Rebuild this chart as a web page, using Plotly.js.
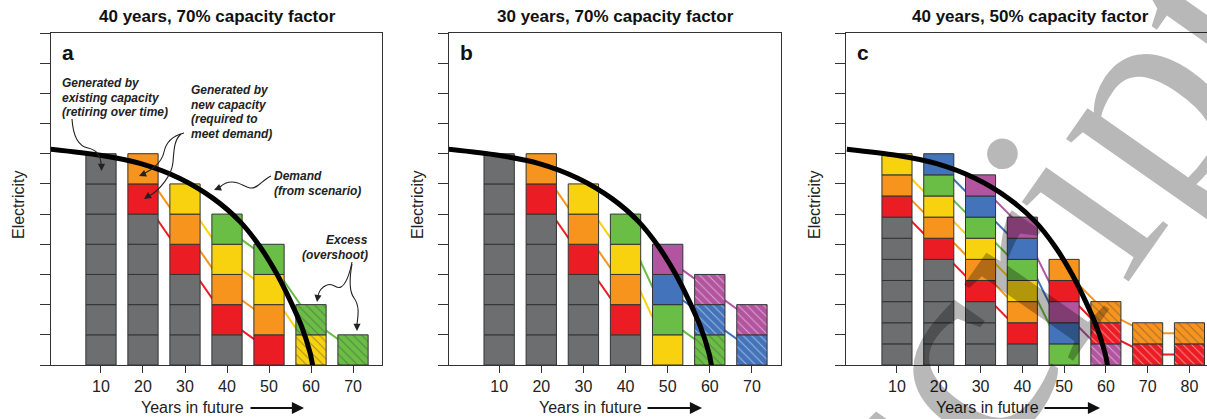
<!DOCTYPE html>
<html><head><meta charset="utf-8">
<script src="https://cdn.plot.ly/plotly-3.0.1.min.js"></script>
<style>html,body{margin:0;padding:0;background:#fff;overflow:hidden}</style>
</head><body><div id="chart" style="width:1207px;height:419px"></div>
<script>
// ---------------- data ----------------
const panelTitles = ['40 years, 70% capacity factor', '30 years, 70% capacity factor', '40 years, 50% capacity factor'];
const panelLetters = ['a', 'b', 'c'];
const yearsA = [10, 20, 30, 40, 50, 60, 70];
const yearsB = [10, 20, 30, 40, 50, 60, 70];
const yearsC = [10, 20, 30, 40, 50, 60, 70, 80];
// blocks generated by existing (retiring) capacity in each bar
const existingA = [7, 5, 3, 1, 0, 0, 0];
const existingB = [7, 5, 3, 1, 0, 0, 0];
const existingC = [7, 5, 3, 1, 0, 0, 0, 0];
// new-capacity cohorts: colour and the bars in which each cohort generates
const cohortColorsA = ['red', 'orange', 'yellow', 'green'];
const cohortYearsA = [[20, 30, 40, 50], [20, 30, 40, 50], [30, 40, 50, 60], [40, 50, 60, 70]];
const cohortColorsB = ['red', 'orange', 'yellow', 'green', 'blue', 'purple'];
const cohortYearsB = [[20, 30, 40], [20, 30, 40], [30, 40, 50], [40, 50, 60], [50, 60, 70], [50, 60, 70]];
const cohortColorsC = ['red', 'orange', 'yellow', 'green', 'blue', 'purple', 'red', 'orange'];
const cohortYearsC = [[10, 20, 30, 40], [10, 20, 30, 40], [10, 20, 30, 40], [20, 30, 40, 50], [20, 30, 40, 50], [30, 40, 50, 60], [50, 60, 70, 80], [50, 60, 70, 80]];
// electricity per block (capacity factor)
const blockA = 1, blockB = 1, blockC = 0.7;
// bars whose generation is all excess (overshoot)
const excessYears = [60, 70, 80];
// demand scenario curve
const demandYears = [-2, 9.8, 19.3, 28.8, 36.7, 43.1, 47.9, 51.8, 55.0, 57.8, 59.8, 60.5];
const demandValues = [7.15, 6.95, 6.68, 6.18, 5.52, 4.75, 3.91, 3.03, 2.15, 1.26, 0.39, -0.1];

// ---------------- styling ----------------
const palette = {gray: '#6d6e70', red: '#ec1c24', orange: '#f7941d', yellow: '#f8d20f', green: '#6abd45', blue: '#4373ba', purple: '#b3549f'};
const FONT = 'Liberation Sans, Arial, Helvetica, sans-serif';
const W = 1207, H = 419;
const px = v => v / W, py = v => 1 - v / H;
const yDom = [54 / H, 386 / H];
const panels = [
  {years: yearsA, existing: existingA, cc: cohortColorsA, cy: cohortYearsA, block: blockA, dom: [51 / W, 382 / W], range: [-1.9, 76.9], mirrorY: true},
  {years: yearsB, existing: existingB, cc: cohortColorsB, cy: cohortYearsB, block: blockB, dom: [449 / W, 781 / W], range: [-1.9, 76.9], mirrorY: true},
  {years: yearsC, existing: existingC, cc: cohortColorsC, cy: cohortYearsC, block: blockC, dom: [846 / W, 1], range: [-2.2, 84.2], mirrorY: false}
];

const traces = [];
const layout = {
  width: W, height: H, margin: {l: 0, r: 0, t: 0, b: 0},
  paper_bgcolor: '#fff', plot_bgcolor: 'rgba(0,0,0,0)',
  showlegend: false, barmode: 'overlay',
  font: {family: FONT, color: '#222'},
  annotations: [], shapes: []
};

panels.forEach((p, i) => {
  const n1 = 2 * i + 1, n2 = 2 * i + 2;
  const bx = 'x' + (n1 === 1 ? '' : n1), by = 'y' + (n1 === 1 ? '' : n1);
  const ox = 'x' + n2, oy = 'y' + n2;
  layout['xaxis' + (n1 === 1 ? '' : n1)] = {domain: p.dom, range: p.range, anchor: by, tickvals: p.years, ticks: 'outside', ticklen: 7,
    tickcolor: '#333', showline: true, linecolor: '#333', linewidth: 1, mirror: true, showgrid: false, zeroline: false,
    tickfont: {size: 16, family: FONT, color: '#222'}, fixedrange: true};
  layout['yaxis' + (n1 === 1 ? '' : n1)] = {domain: yDom, range: [0, 11], anchor: bx, tickvals: [0,1,2,3,4,5,6,7,8,9,10,11], ticks: 'outside', ticklen: 10,
    tickcolor: '#333', showticklabels: false, showline: true, linecolor: '#333', linewidth: 1, mirror: p.mirrorY,
    showgrid: false, zeroline: false, fixedrange: true};
  layout['xaxis' + n2] = {overlaying: bx, anchor: oy, range: p.range, visible: false, fixedrange: true};
  layout['yaxis' + n2] = {overlaying: by, anchor: ox, range: [0, 11], visible: false, fixedrange: true};

  const solid = {x: [], base: [], y: [], c: []}, hatch = {x: [], base: [], y: [], c: []};
  const centers = p.cc.map(() => ({x: [], y: []}));
  p.years.forEach((yr, j) => {
    let top = 0;
    const tgt = excessYears.includes(yr) ? hatch : solid;
    const add = col => { tgt.x.push(yr); tgt.base.push(top); tgt.y.push(p.block); tgt.c.push(palette[col]); top += p.block; };
    for (let g = 0; g < p.existing[j]; g++) add('gray');
    p.cc.forEach((col, k) => {
      if (p.cy[k].includes(yr)) { centers[k].x.push(yr); centers[k].y.push(top + p.block / 2); add(col); }
    });
  });
  // cohort connector lines (behind bars)
  centers.forEach((c, k) => traces.push({type: 'scatter', mode: 'lines', x: c.x, y: c.y, xaxis: bx, yaxis: by,
    line: {color: palette[p.cc[k]], width: 2}, hoverinfo: 'skip'}));
  traces.push({type: 'bar', x: solid.x, base: solid.base, y: solid.y, width: 7.2, xaxis: ox, yaxis: oy,
    marker: {color: solid.c, line: {color: '#333', width: 1}}, hoverinfo: 'skip'});
  traces.push({type: 'bar', x: hatch.x, base: hatch.base, y: hatch.y, width: 7.2, xaxis: ox, yaxis: oy,
    marker: {color: hatch.c, line: {color: '#333', width: 1},
      pattern: {shape: '\\', fillmode: 'overlay', fgcolor: '#2a2a2a', size: 6, solidity: 0.16}}, hoverinfo: 'skip'});
  traces.push({type: 'scatter', mode: 'lines', x: demandYears, y: demandValues, xaxis: ox, yaxis: oy,
    line: {color: '#000', width: 5, shape: 'spline', smoothing: 0.8}, hoverinfo: 'skip'});
});

// ---------------- annotations ----------------
const A = layout.annotations, S = layout.shapes;
const titleX = [217, 615, 1030], letterX = [68, 466, 863], elecX = [18, 417, 814];
const yearsTextX = [192, 590, 987], arrowX = [[249, 304], [646, 702], [1043, 1100]];
for (let i = 0; i < 3; i++) {
  A.push({xref: 'paper', yref: 'paper', x: px(titleX[i]), y: py(17), text: '<b>' + panelTitles[i] + '</b>', showarrow: false,
    font: {size: 17, family: FONT, color: '#111'}, xanchor: 'center', yanchor: 'middle'});
  A.push({xref: 'paper', yref: 'paper', x: px(letterX[i]), y: py(53), text: '<b>' + panelLetters[i] + '</b>', showarrow: false,
    font: {size: 21, family: FONT, color: '#111'}, xanchor: 'center', yanchor: 'middle'});
  A.push({xref: 'paper', yref: 'paper', x: px(elecX[i]), y: py(205), text: 'Electricity', textangle: -90, showarrow: false,
    font: {size: 16, family: FONT, color: '#222'}, xanchor: 'center', yanchor: 'middle'});
  A.push({xref: 'paper', yref: 'paper', x: px(yearsTextX[i]), y: py(407), text: 'Years in future', showarrow: false,
    font: {size: 16, family: FONT, color: '#222'}, xanchor: 'center', yanchor: 'middle'});
  A.push({xref: 'paper', yref: 'paper', x: px(arrowX[i][1]), y: py(408), ax: arrowX[i][0] - arrowX[i][1], ay: 0, text: '',
    showarrow: true, arrowhead: 2, arrowsize: 1.1, arrowwidth: 2.2, arrowcolor: '#111', standoff: 0});
}
const note = (x, y, lines, anchor) => lines.forEach((t, k) => A.push({xref: 'paper', yref: 'paper', x: px(x), y: py(y + 14.5 * k),
  text: '<b><i>' + t + '</i></b>', showarrow: false, xanchor: anchor, yanchor: 'middle', font: {size: 12, family: FONT, color: '#222'}}));
note(60, 83, ['Generated by', 'existing capacity', '(retiring over time)'], 'left');
note(189, 90, ['Generated by', 'new capacity', '(required to', 'meet demand)'], 'left');
note(272, 176, ['Demand', '(from scenario)'], 'left');
note(370, 240, ['Excess', '(overshoot)'], 'right');

// curved pointer arrows (pixel paths converted to paper coordinates)
const curve = pts => {
  let d = 'M' + px(pts[0][0]) + ',' + py(pts[0][1]);
  for (let k = 1; k < pts.length; k += 3) {
    d += ' C' + [pts[k], pts[k + 1], pts[k + 2]].map(q => px(q[0]) + ',' + py(q[1])).join(' ');
  }
  S.push({type: 'path', xref: 'paper', yref: 'paper', path: d, line: {color: '#222', width: 1.1}});
};
const head = (x, y, dx, dy) => A.push({xref: 'paper', yref: 'paper', x: px(x), y: py(y), ax: dx, ay: dy, text: '',
  showarrow: true, arrowhead: 2, arrowsize: 1.3, arrowwidth: 1.1, arrowcolor: '#222', standoff: 0});
curve([[72, 119], [73, 135], [78, 146], [88, 148], [97, 150], [101, 156], [101, 165]]);
head(101.5, 171, 0, -7);
curve([[184, 133], [172, 136], [166, 142], [164, 152], [162, 162], [152, 170], [145, 173]]);
head(139, 176, 7, -3);
curve([[181, 134], [174, 140], [174, 150], [173, 162], [172, 175], [160, 190], [149, 196]]);
head(144, 199, 6, -4);
curve([[271, 176], [262, 180], [258, 189], [250, 188], [244, 187], [240, 182], [232, 182], [226, 182], [222, 185], [220, 187]]);
head(214, 190, 7, -3);
curve([[352, 262], [350, 272], [346, 284], [341, 287], [336, 290], [334, 282], [327, 285], [322, 287], [319, 291], [318, 296]]);
head(317, 302, 1, -7);
curve([[352, 264], [350, 275], [348, 290], [354, 298], [360, 306], [358, 316], [357, 324]]);
head(357, 331, 0, -7);

// "Accepted Manuscript" watermark over panel c
A.push({xref: 'paper', yref: 'paper', x: px(842), y: py(520), text: 'Manuscript', showarrow: false, textangle: -55,
  xanchor: 'center', yanchor: 'middle', font: {size: 290, family: 'Liberation Serif, Times New Roman, serif', color: 'rgba(0,0,0,0.28)'}});

Plotly.newPlot('chart', traces, layout, {staticPlot: true, displayModeBar: false});
</script></body></html>
